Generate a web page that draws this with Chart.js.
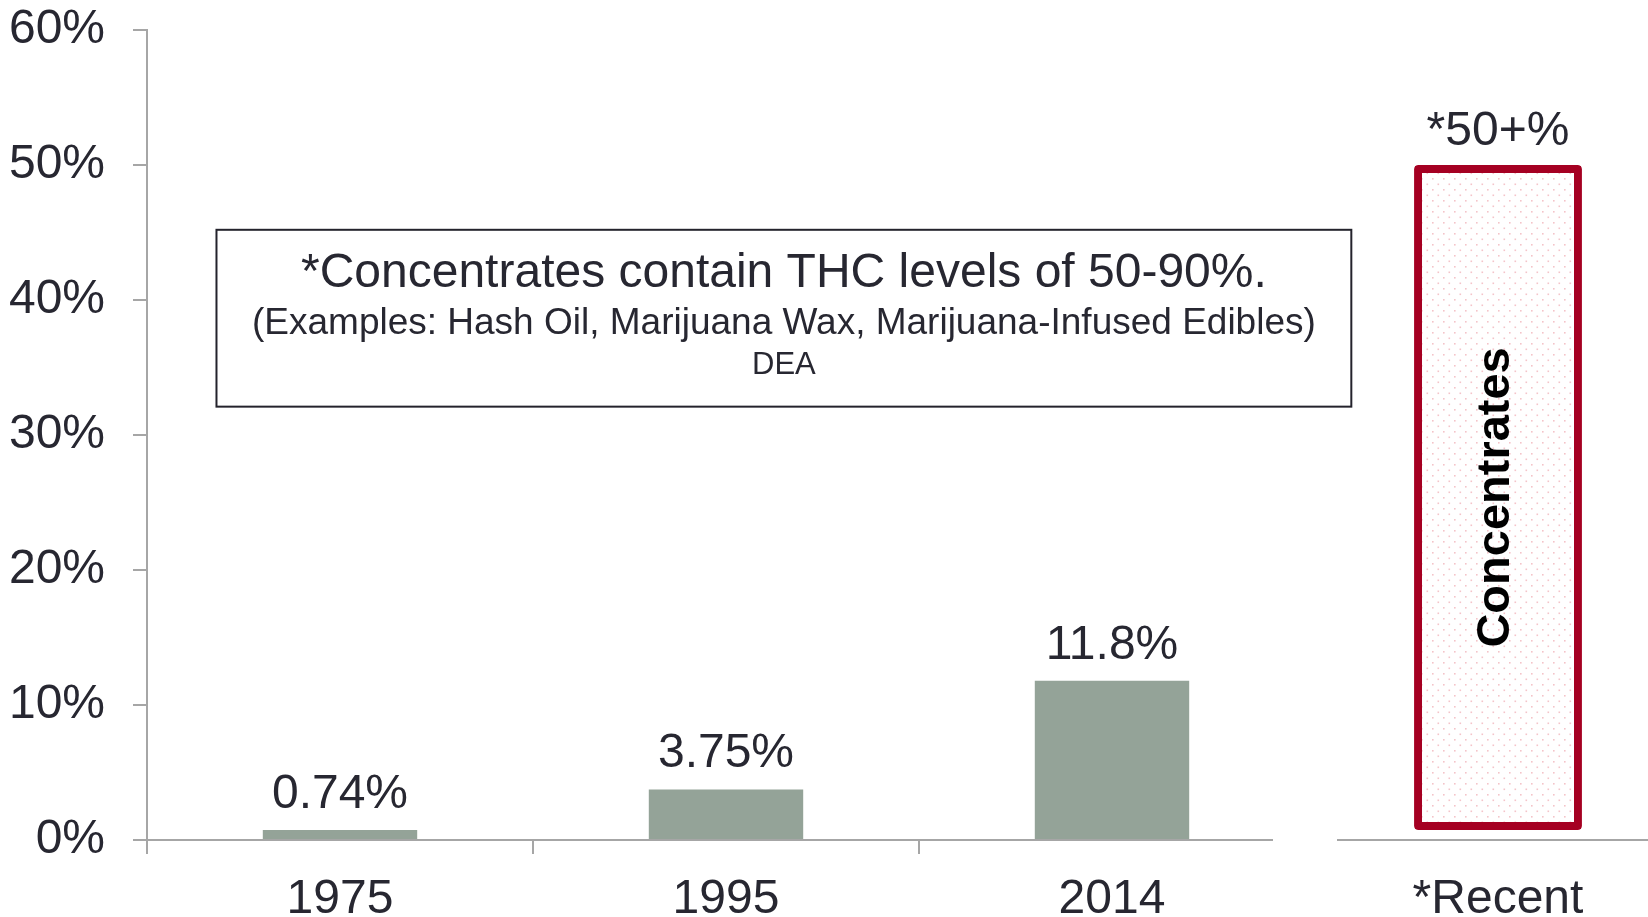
<!DOCTYPE html>
<html>
<head>
<meta charset="utf-8">
<script src="https://cdn.jsdelivr.net/npm/chart.js@4/dist/chart.umd.min.js"></script>
<style>
  html, body { margin: 0; padding: 0; background: #fff; overflow: hidden; }
  canvas { display: block; }
</style>
</head>
<body>
<canvas id="thc" width="1700" height="917"></canvas>
<script>
var categories = ["1975", "1995", "2014", "*Recent"];
var thcValues = [0.74, 3.75, 11.8, null];
var thcLabels = ["0.74%", "3.75%", "11.8%"];
var recentRange = [null, null, null, [0.75, 50]];
var recentLabel = "*50+%";
var yTicks = [0, 10, 20, 30, 40, 50, 60];
var noteLines = [
  "*Concentrates contain THC levels of 50-90%.",
  "(Examples: Hash Oil, Marijuana Wax, Marijuana-Infused Edibles)",
  "DEA"
];

var FONT = "'Liberation Sans', Arial, Helvetica, sans-serif";
var TEXT = "#272731";
var AXIS = "#a6a6a6";

// dotted pink fill for the concentrates bar
function dotPattern() {
  var c = document.createElement("canvas");
  c.width = 11; c.height = 11;
  var g = c.getContext("2d");
  g.fillStyle = "#ffffff";
  g.fillRect(0, 0, 11, 11);
  g.fillStyle = "#f4c4c9";
  g.fillRect(2, 2, 1.6, 1.6);
  g.fillRect(7.5, 7.5, 1.6, 1.6);
  return g.createPattern(c, "repeat");
}

var extras = {
  id: "extras",
  beforeDatasetsDraw: function (chart) {
    // x axis line with a break before the last category
    var ctx = chart.ctx, x = chart.scales.x, area = chart.chartArea;
    var brk = (x.getPixelForValue(2) + x.getPixelForValue(3)) / 2;
    ctx.save();
    ctx.strokeStyle = AXIS;
    ctx.lineWidth = 2;
    ctx.beginPath();
    ctx.moveTo(area.left, area.bottom);
    ctx.lineTo(brk - 32, area.bottom);
    ctx.moveTo(brk + 32, area.bottom);
    ctx.lineTo(area.right, area.bottom);
    ctx.stroke();
    ctx.restore();
  },
  afterDatasetsDraw: function (chart) {
    var ctx = chart.ctx, x = chart.scales.x, y = chart.scales.y;
    ctx.save();
    ctx.fillStyle = TEXT;
    ctx.textAlign = "center";
    ctx.textBaseline = "alphabetic";
    ctx.font = "48px " + FONT;
    chart.getDatasetMeta(0).data.forEach(function (bar, i) {
      if (thcValues[i] == null) return;
      ctx.fillText(thcLabels[i], bar.x, bar.y - 22);
    });
    var rb = chart.getDatasetMeta(1).data[3];
    ctx.fillText(recentLabel, rb.x, rb.y - 20);

    // vertical label inside the bar
    ctx.save();
    ctx.translate(rb.x - 2, (rb.y + rb.base) / 2);
    ctx.rotate(-Math.PI / 2);
    ctx.fillStyle = "#000000";
    ctx.font = "bold 47px " + FONT;
    ctx.textBaseline = "middle";
    ctx.fillText("Concentrates", 0, 0);
    ctx.restore();

    // note box
    var left = x.getPixelForValue(-0.32), right = x.getPixelForValue(2.62);
    var top = y.getPixelForValue(45.2), bottom = y.getPixelForValue(32.1);
    ctx.strokeStyle = "#24232c";
    ctx.lineWidth = 2;
    ctx.strokeRect(left, top, right - left, bottom - top);
    var cx = (left + right) / 2;
    ctx.fillStyle = TEXT;
    ctx.font = "48px " + FONT;
    ctx.fillText(noteLines[0], cx, top + 57);
    ctx.font = "37px " + FONT;
    ctx.fillText(noteLines[1], cx, top + 104);
    ctx.font = "31px " + FONT;
    ctx.fillText(noteLines[2], cx, top + 144);
    ctx.restore();
  }
};

var ctx = document.getElementById("thc").getContext("2d");
var thcChart = new Chart(ctx, {
  type: "bar",
  data: {
    labels: categories,
    datasets: [
      {
        data: thcValues,
        backgroundColor: "#94a398",
        barPercentage: 0.4,
        categoryPercentage: 1
      },
      {
        data: recentRange,
        backgroundColor: dotPattern(),
        borderColor: "#a50022",
        borderWidth: 8,
        borderRadius: 4,
        borderSkipped: false,
        barPercentage: 0.435,
        categoryPercentage: 1
      }
    ]
  },
  options: {
    responsive: false,
    animation: false,
    grouped: false,
    layout: { padding: { top: 30, right: 9, left: 0, bottom: 0 } },
    plugins: { legend: { display: false }, tooltip: { enabled: false } },
    scales: {
      x: {
        grid: {
          drawOnChartArea: false,
          tickLength: 14,
          lineWidth: 2,
          tickColor: function (c) { return c.index === 3 ? "rgba(0,0,0,0)" : AXIS; },
          color: AXIS
        },
        border: { display: false },
        ticks: { color: TEXT, font: { family: FONT, size: 48 }, padding: 17 },
        afterFit: function (s) { s.height = 77; }
      },
      y: {
        min: 0,
        max: 60,
        afterBuildTicks: function (s) { s.ticks = yTicks.map(function (v) { return { value: v }; }); },
        grid: { drawOnChartArea: false, tickLength: 14, lineWidth: 2, color: AXIS },
        border: { display: true, color: AXIS, width: 2 },
        ticks: {
          color: TEXT,
          font: { family: FONT, size: 48 },
          padding: 28,
          callback: function (v) { return v + "%"; }
        },
        afterFit: function (s) {
          s.width = 147;
          s.paddingTop = 0;
          s.paddingBottom = 0;
        }
      }
    }
  },
  plugins: [extras]
});
</script>
</body>
</html>
